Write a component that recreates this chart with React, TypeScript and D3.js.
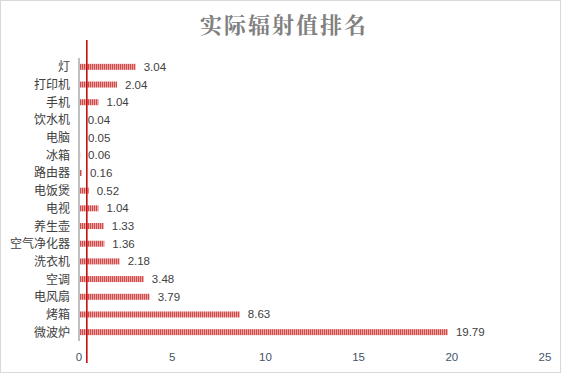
import React from "react";
import * as d3 from "d3";

const categories = ["灯", "打印机", "手机", "饮水机", "电脑", "冰箱", "路由器", "电饭煲", "电视", "养生壶", "空气净化器", "洗衣机", "空调", "电风扇", "烤箱", "微波炉"];
const values = [3.04, 2.04, 1.04, 0.04, 0.05, 0.06, 0.16, 0.52, 1.04, 1.33, 1.36, 2.18, 3.48, 3.79, 8.63, 19.79];
const xTicks = [0, 5, 10, 15, 20, 25];
const title = "实际辐射值排名";
const refValue = 0.42;

export default function App() {
  const W = 562, H = 375;
  const x = d3.scaleLinear().domain([0, 25]).range([79, 545]);
  const y = d3.scaleBand<string>().domain(categories).range([58, 341]).paddingInner(0.66).paddingOuter(0.33);
  const bh = 6;
  return (
    <svg width={W} height={H} style={{ position: "absolute", left: 0, top: 0 }} xmlns="http://www.w3.org/2000/svg">
      <defs>
        <pattern id="stripes" width="2" height="6" patternUnits="userSpaceOnUse">
          <rect x="0" y="0" width="1" height="6" fill="#d04a4a" />
          <rect x="1" y="0" width="1" height="6" fill="#eaa5a5" />
        </pattern>
      </defs>
      <rect x={0.5} y={0.5} width={560} height={372} fill="#ffffff" stroke="#d9d9d9" />
      <text x={284} y={33} textAnchor="middle" fontFamily="'Noto Serif CJK SC','Noto Sans CJK SC',serif" fontWeight="bold" fontSize={22} fill="#808080" letterSpacing={2}>{title}</text>
      {categories.map((c, i) => {
        const cy = (y(c) as number) + y.bandwidth() / 2;
        return (
          <g key={c}>
            <rect x={x(0)} y={cy - bh / 2} width={x(values[i]) - x(0)} height={bh} fill="url(#stripes)" />
            <text x={x(values[i]) + 8} y={cy + 4} fontFamily="'Liberation Sans','Noto Sans CJK SC',sans-serif" fontSize={11.5} fill="#404040">{values[i].toFixed(2)}</text>
            <text x={70} y={cy + 4.5} textAnchor="end" fontFamily="'Noto Sans CJK SC',sans-serif" fontSize={12} fill="#404040">{c}</text>
          </g>
        );
      })}
      <line x1={79} x2={79} y1={58} y2={341} stroke="#bfbfbf" strokeWidth={2} />
      {xTicks.map(t => (
        <text key={t} x={x(t)} y={361} textAnchor="middle" fontFamily="'Liberation Sans',sans-serif" fontSize={11.5} fill="#44546a">{t}</text>
      ))}
      <line x1={x(refValue)} x2={x(refValue)} y1={40} y2={363} stroke="#c00000" strokeWidth={1.5} />
    </svg>
  );
}
